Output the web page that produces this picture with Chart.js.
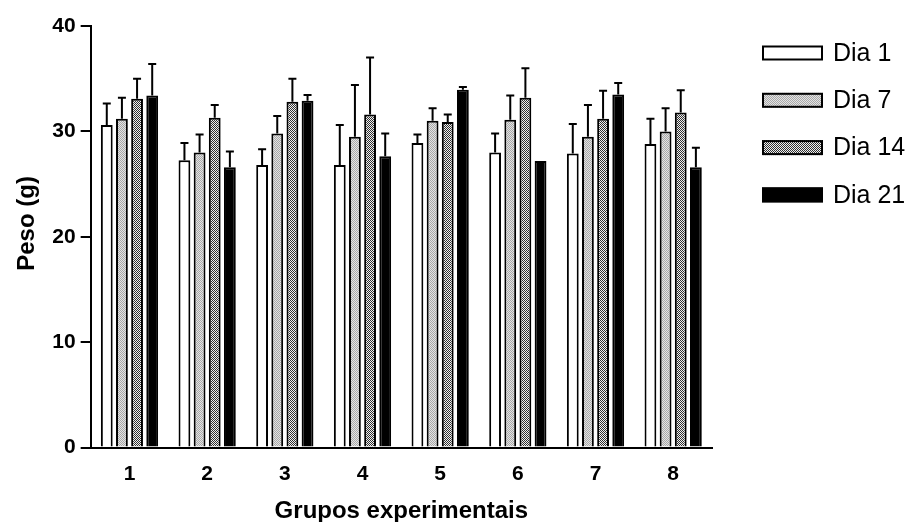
<!DOCTYPE html>
<html>
<head>
<meta charset="utf-8">
<script src="https://cdn.jsdelivr.net/npm/chart.js@4"></script>
<style>
  body { margin: 0; background: #fff; }
  #wrap { width: 909px; height: 522px; }
</style>
</head>
<body>
<div id="wrap"><canvas id="pesoChart" width="909" height="522"></canvas></div>
<script>
const grupos = ['1', '2', '3', '4', '5', '6', '7', '8'];
const dias = ['Dia 1', 'Dia 7', 'Dia 14', 'Dia 21'];

const dia1 = [30.6, 27.25, 26.8, 26.8, 28.9, 28.0, 27.9, 28.8];
const dia7 = [31.2, 28.0, 29.8, 29.5, 31.0, 31.1, 29.5, 30.0];
const dia14 = [33.1, 31.3, 32.8, 31.6, 30.9, 33.2, 31.2, 31.8];
const dia21 = [33.4, 26.6, 32.9, 27.65, 33.95, 27.2, 33.5, 26.6];

// upper error (SEM) for each bar
const err1 = [2.05, 1.65, 1.5, 3.8, 0.8, 1.8, 2.8, 2.4];
const err7 = [2.0, 1.7, 1.65, 4.9, 1.2, 2.3, 3.0, 2.2];
const err14 = [1.9, 1.2, 2.2, 5.4, 0.7, 2.8, 2.65, 2.1];
const err21 = [3.0, 1.5, 0.55, 2.15, 0.25, 0, 1.1, 1.85];

const yTicks = [0, 10, 20, 30, 40];

const fontFam = '"Liberation Sans", Arial, sans-serif';

// little dot patterns like the old printed chart
function makePattern(a, b) {
  const c = document.createElement('canvas');
  c.width = 2; c.height = 2;
  const x = c.getContext('2d');
  x.fillStyle = a; x.fillRect(0, 0, 2, 2);
  x.fillStyle = b; x.fillRect(0, 0, 1, 1); x.fillRect(1, 1, 1, 1);
  return x.createPattern(c, 'repeat');
}
const ctx = document.getElementById('pesoChart').getContext('2d');
const light = makePattern('#e4e4e4', '#a8a8a8');
const dark = makePattern('#f0f0f0', '#303030');

const errorBars = {
  id: 'errorBars',
  afterDatasetsDraw(chart) {
    const c = chart.ctx;
    const y = chart.scales.y;
    c.save();
    c.strokeStyle = '#000';
    c.lineWidth = 2;
    chart.data.datasets.forEach((ds, i) => {
      const meta = chart.getDatasetMeta(i);
      meta.data.forEach((bar, j) => {
        const e = ds.errors[j];
        if (!e) return;
        const top = y.getPixelForValue(ds.data[j] + e);
        c.beginPath();
        c.moveTo(bar.x, bar.y);
        c.lineTo(bar.x, top);
        c.moveTo(bar.x - 4, top);
        c.lineTo(bar.x + 4, top);
        c.stroke();
      });
    });
    c.restore();
  }
};

// legend on the right, drawn by hand so it sits where the original one does
const sideLegend = {
  id: 'sideLegend',
  afterDraw(chart) {
    const c = chart.ctx;
    const x0 = chart.chartArea.right + 50;
    c.save();
    c.font = '25px ' + fontFam;
    c.textBaseline = 'middle';
    chart.data.datasets.forEach((ds, i) => {
      const yc = 53 + i * 47.3;
      c.fillStyle = ds.backgroundColor;
      c.fillRect(x0, yc - 7.5, 61, 15);
      c.strokeStyle = '#000';
      c.lineWidth = 2;
      c.strokeRect(x0 + 1, yc - 6.5, 59, 13);
      c.fillStyle = '#000';
      c.fillText(ds.label, x0 + 71, yc + 1);
    });
    c.restore();
  }
};

const data = {
  labels: grupos,
  datasets: [
    { label: dias[0], data: dia1, errors: err1, backgroundColor: '#fff', borderColor: '#000', borderWidth: 2 },
    { label: dias[1], data: dia7, errors: err7, backgroundColor: light, borderColor: '#000', borderWidth: 2 },
    { label: dias[2], data: dia14, errors: err14, backgroundColor: dark, borderColor: '#000', borderWidth: 2 },
    { label: dias[3], data: dia21, errors: err21, backgroundColor: '#000', borderColor: '#000', borderWidth: 2 }
  ]
};

const config = {
  type: 'bar',
  data: data,
  options: {
    responsive: false,
    animation: false,
    categoryPercentage: 0.78,
    barPercentage: 0.78,
    layout: { padding: { top: 26, right: 197, left: 4, bottom: 0 } },
    plugins: {
      tooltip: { enabled: false },
      legend: { display: false }
    },
    scales: {
      x: {
        grid: { display: false, drawTicks: false },
        border: { color: '#000', width: 2 },
        ticks: { color: '#000', padding: 16, font: { family: fontFam, size: 21, weight: 'bold', lineHeight: 1 } },
        title: { display: true, text: 'Grupos experimentais', color: '#000', padding: { top: 0, bottom: 0 },
                 font: { family: fontFam, size: 24, weight: 'bold', lineHeight: '21.5px' } }
      },
      y: {
        min: 0,
        max: 40,
        afterBuildTicks: (s) => { s.ticks = yTicks.map(v => ({ value: v })); },
        grid: { drawOnChartArea: false, drawTicks: true, tickLength: 10, color: '#000', lineWidth: 2 },
        border: { color: '#000', width: 2 },
        ticks: { color: '#000', padding: 5, font: { family: fontFam, size: 21, weight: 'bold' } },
        title: { display: true, text: '    Peso (g)', color: '#000', padding: { top: 9, bottom: 5.5 },
                 font: { family: fontFam, size: 24, weight: 'bold' } }
      }
    }
  },
  plugins: [errorBars, sideLegend]
};

const myChart = new Chart(ctx, config);
</script>
</body>
</html>
